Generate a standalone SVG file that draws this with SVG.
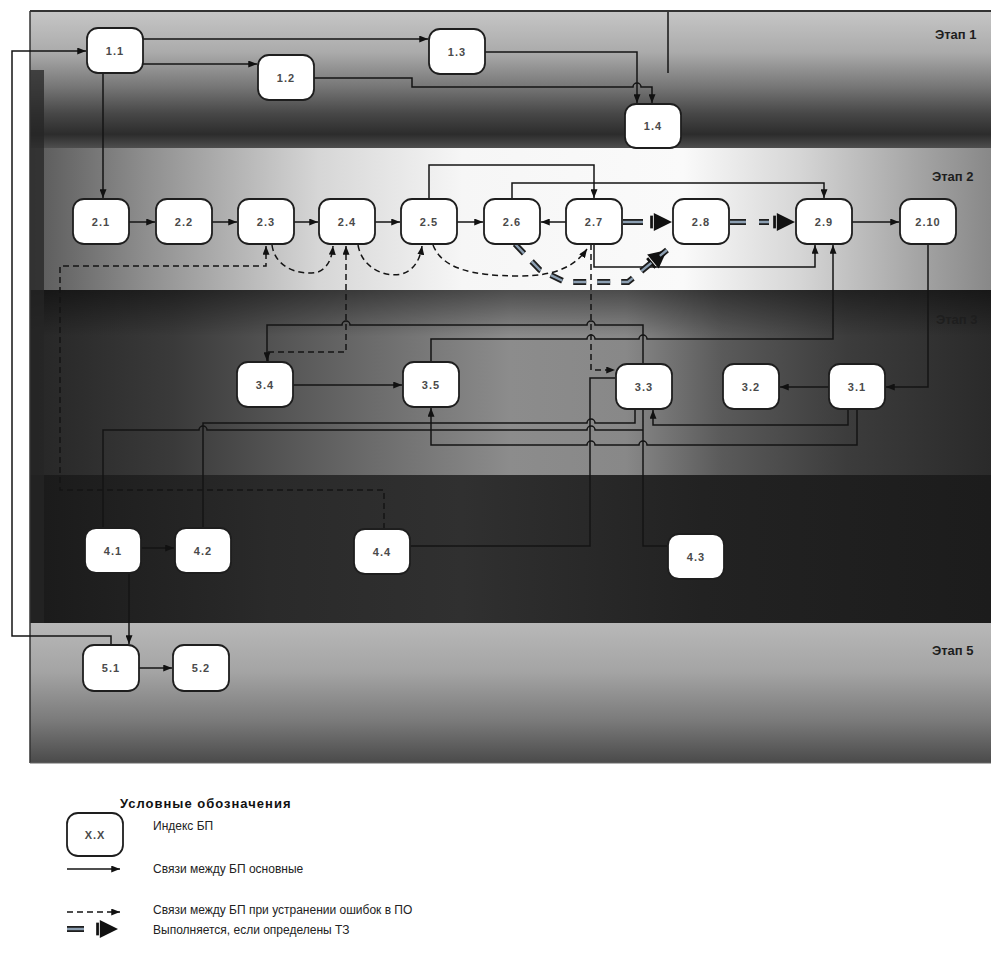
<svg xmlns="http://www.w3.org/2000/svg" width="991" height="959" viewBox="0 0 991 959">
<style>
.bg{stroke:none}
.node rect{fill:#ffffff;stroke:#1e1e1e;stroke-width:1.8}
.node text{font-family:"Liberation Sans",Arial,sans-serif;font-size:11px;font-weight:bold;fill:#4a4a4a;letter-spacing:1px;text-anchor:middle;dominant-baseline:central}
.c{fill:none;stroke:#141414;stroke-width:1.5}
.d{fill:none;stroke:#141414;stroke-width:1.5;stroke-dasharray:6 4}
.tzo{fill:none;stroke:#1e1e1e;stroke-width:6}
.tzi{fill:none;stroke:#8c9fb2;stroke-width:2.4}
.stage{font-family:"Liberation Sans",Arial,sans-serif;font-size:13px;font-weight:bold;fill:#1e1e1e}
.lt{font-family:"Liberation Sans",Arial,sans-serif;font-size:12px;fill:#222}
.ltitle{font-family:"Liberation Sans",Arial,sans-serif;font-size:13px;font-weight:bold;fill:#111;letter-spacing:1px}
</style>
<defs>
<marker id="ah" viewBox="0 0 10 8" refX="10" refY="4" markerWidth="9" markerHeight="7" markerUnits="userSpaceOnUse" orient="auto"><path d="M0,0 L10,4 L0,8 z" fill="#111"/></marker>
<marker id="tz" viewBox="0 0 24 22" refX="24" refY="11" markerWidth="22" markerHeight="20" markerUnits="userSpaceOnUse" orient="auto"><path d="M4,1 L24,11 L4,21 z" fill="#111"/><rect x="0" y="4" width="3" height="14" fill="#111"/></marker>
<linearGradient id="g1" x1="0" y1="0" x2="0" y2="1"><stop offset="0" stop-color="#c6c6c6"/><stop offset="0.3" stop-color="#ababab"/><stop offset="0.55" stop-color="#777"/><stop offset="0.75" stop-color="#474747"/><stop offset="0.9" stop-color="#2c2c2c"/><stop offset="1" stop-color="#4e4e4e"/></linearGradient>
<linearGradient id="g2" x1="0" y1="0" x2="1" y2="0"><stop offset="0" stop-color="#585858"/><stop offset="0.12" stop-color="#8e8e8e"/><stop offset="0.3" stop-color="#d6d6d6"/><stop offset="0.45" stop-color="#f6f6f6"/><stop offset="0.68" stop-color="#fafafa"/><stop offset="0.8" stop-color="#d6d6d6"/><stop offset="0.92" stop-color="#a6a6a6"/><stop offset="1" stop-color="#888"/></linearGradient>
<linearGradient id="g3" x1="0" y1="0" x2="1" y2="0"><stop offset="0" stop-color="#262626"/><stop offset="0.15" stop-color="#3a3a3a"/><stop offset="0.35" stop-color="#6a6a6a"/><stop offset="0.5" stop-color="#8c8c8c"/><stop offset="0.62" stop-color="#888"/><stop offset="0.72" stop-color="#5a5a5a"/><stop offset="0.85" stop-color="#3c3c3c"/><stop offset="1" stop-color="#2a2a2a"/></linearGradient>
<linearGradient id="g3v" x1="0" y1="0" x2="0" y2="1"><stop offset="0" stop-color="#000" stop-opacity="0.45"/><stop offset="0.25" stop-color="#000" stop-opacity="0"/><stop offset="1" stop-color="#000" stop-opacity="0"/></linearGradient>
<linearGradient id="g4" x1="0" y1="0" x2="1" y2="0"><stop offset="0" stop-color="#1a1a1a"/><stop offset="0.25" stop-color="#2a2a2a"/><stop offset="0.45" stop-color="#303030"/><stop offset="0.7" stop-color="#222"/><stop offset="1" stop-color="#1c1c1c"/></linearGradient>
<linearGradient id="g5" x1="0" y1="0" x2="0" y2="1"><stop offset="0" stop-color="#b8b8b8"/><stop offset="0.35" stop-color="#a4a4a4"/><stop offset="0.7" stop-color="#7a7a7a"/><stop offset="1" stop-color="#4a4a4a"/></linearGradient>
</defs>

<rect x="0" y="0" width="991" height="959" fill="#ffffff"/>

<g id="bands">
<rect class="bg" x="30" y="11" width="961" height="137" fill="url(#g1)"/>
<rect class="bg" x="30" y="148" width="961" height="142" fill="url(#g2)"/>
<rect class="bg" x="30" y="290" width="961" height="185" fill="url(#g3)"/>
<rect class="bg" x="30" y="290" width="961" height="185" fill="url(#g3v)"/>
<rect class="bg" x="30" y="475" width="961" height="148" fill="url(#g4)"/>
<rect class="bg" x="30" y="623" width="961" height="140" fill="url(#g5)"/>
<rect class="bg" x="30" y="70" width="14" height="553" fill="#262626" opacity="0.75"/>
<line x1="30" y1="11" x2="991" y2="11" stroke="#333" stroke-width="2"/>
<line x1="30" y1="11" x2="30" y2="763" stroke="#333" stroke-width="1.5"/>
<line x1="30" y1="763" x2="991" y2="763" stroke="#666" stroke-width="1"/>
<text class="stage" x="935" y="39">Этап 1</text>
<text class="stage" x="932" y="181">Этап 2</text>
<text class="stage" x="936" y="324">Этап 3</text>
<text class="stage" x="932" y="655">Этап 5</text>
</g>

<g id="connectors">
<path class="c" d="M111,645 V636 H12 V51 H86" marker-end="url(#ah)"/>
<path class="c" d="M143,39 H428" marker-end="url(#ah)"/>
<path class="c" d="M143,64 H257" marker-end="url(#ah)"/>
<path class="c" d="M314,78 H412 V87 H633 a4,4 0 0 1 8,0 H652 V103" marker-end="url(#ah)"/>
<path class="c" d="M485,52 H637 V103" marker-end="url(#ah)"/>
<path class="c" d="M668,12 V73"/>
<path class="c" d="M103,73 V198" marker-end="url(#ah)"/>
<path class="c" d="M129,222 H155" marker-end="url(#ah)"/>
<path class="c" d="M212,222 H237" marker-end="url(#ah)"/>
<path class="c" d="M294,222 H318" marker-end="url(#ah)"/>
<path class="c" d="M375,222 H400" marker-end="url(#ah)"/>
<path class="c" d="M457,222 H483" marker-end="url(#ah)"/>
<path class="c" d="M566,222 H541" marker-end="url(#ah)"/>
<path class="c" d="M429,199 V165 H594 V198" marker-end="url(#ah)"/>
<path class="c" d="M512,199 V183 H824 V198" marker-end="url(#ah)"/>
<path class="c" d="M852,222 H899" marker-end="url(#ah)"/>
<path class="c" d="M594,244 V267 H815 V245" marker-end="url(#ah)"/>
<path class="tzo" d="M623,222 H672" stroke-dasharray="20 60" marker-end="url(#tz)"/>
<path class="tzi" d="M623,222 H643"/>
<path class="tzo" d="M730,222 H795" stroke-dasharray="16 13 10 60" marker-end="url(#tz)"/>
<path class="tzi" d="M730,222 H795" stroke-dasharray="16 13 10 60"/>
<path class="tzo" d="M515,244 L540,270 L565,282 H628 L667,250" stroke-dasharray="13 11" marker-end="url(#tz)"/>
<path class="tzi" d="M515,244 L540,270 L565,282 H628 L667,250" stroke-dasharray="13 11"/>
<path class="d" d="M272,245 C275,268 300,276 318,272 C328,268 332,258 333,246" marker-end="url(#ah)"/>
<path class="d" d="M358,245 C362,268 385,278 402,274 C414,270 420,260 422,246" marker-end="url(#ah)"/>
<path class="d" d="M433,245 C442,268 470,276 520,276 C552,276 574,268 587,249" marker-end="url(#ah)"/>
<path class="d" d="M384,529 V490 H60 V266 H266 V246" marker-end="url(#ah)"/>
<path class="d" d="M268,362 V352 H346 V246" marker-end="url(#ah)"/>
<path class="d" d="M591,244 V370 H615" marker-end="url(#ah)"/>
<path class="c" d="M643,364 V325 H595 a4,4 0 0 0 -8,0 H350 a4,4 0 0 0 -8,0 H267 V361" marker-end="url(#ah)"/>
<path class="c" d="M293,385 H402" marker-end="url(#ah)"/>
<path class="c" d="M431,362 V339 H587 a4,4 0 0 1 8,0 H639 a4,4 0 0 1 8,0 H833 V245" marker-end="url(#ah)"/>
<path class="c" d="M829,387 H780" marker-end="url(#ah)"/>
<path class="c" d="M928,244 V387 H886" marker-end="url(#ah)"/>
<path class="c" d="M848,409 V425 H653 V410" marker-end="url(#ah)"/>
<path class="c" d="M857,409 V445 H647 a4,4 0 0 0 -8,0 H595 a4,4 0 0 0 -8,0 H431 V408" marker-end="url(#ah)"/>
<path class="c" d="M203,528 V423 H587 a4,4 0 0 1 8,0 H635 V409"/>
<path class="c" d="M103,528 V430 H199 a4,4 0 0 1 8,0 H587 a4,4 0 0 1 8,0 H643"/>
<path class="c" d="M643,409 V546 H667"/>
<path class="c" d="M615,378 H590 V546 H410"/>
<path class="c" d="M141,548 H174" marker-end="url(#ah)"/>
<path class="c" d="M129,573 V644" marker-end="url(#ah)"/>
<path class="c" d="M139,668 H172" marker-end="url(#ah)"/>
</g>

<g id="n1_1" class="node"><rect x="87" y="28" width="56" height="45" rx="11"/><text x="115" y="50.5">1.1</text></g>
<g id="n1_2" class="node"><rect x="258" y="55" width="56" height="45" rx="11"/><text x="286" y="77.5">1.2</text></g>
<g id="n1_3" class="node"><rect x="429" y="29" width="56" height="45" rx="11"/><text x="457" y="51.5">1.3</text></g>
<g id="n1_4" class="node"><rect x="625" y="104" width="56" height="44" rx="11"/><text x="653" y="126">1.4</text></g>

<g id="n2_1" class="node"><rect x="73" y="199" width="56" height="45" rx="11"/><text x="101" y="221.5">2.1</text></g>
<g id="n2_2" class="node"><rect x="156" y="199" width="56" height="45" rx="11"/><text x="184" y="221.5">2.2</text></g>
<g id="n2_3" class="node"><rect x="238" y="199" width="56" height="45" rx="11"/><text x="266" y="221.5">2.3</text></g>
<g id="n2_4" class="node"><rect x="319" y="199" width="56" height="45" rx="11"/><text x="347" y="221.5">2.4</text></g>
<g id="n2_5" class="node"><rect x="401" y="199" width="56" height="45" rx="11"/><text x="429" y="221.5">2.5</text></g>
<g id="n2_6" class="node"><rect x="484" y="199" width="56" height="45" rx="11"/><text x="512" y="221.5">2.6</text></g>
<g id="n2_7" class="node"><rect x="566" y="199" width="56" height="45" rx="11"/><text x="594" y="221.5">2.7</text></g>
<g id="n2_8" class="node"><rect x="673" y="199" width="56" height="45" rx="11"/><text x="701" y="221.5">2.8</text></g>
<g id="n2_9" class="node"><rect x="796" y="199" width="56" height="45" rx="11"/><text x="824" y="221.5">2.9</text></g>
<g id="n2_10" class="node"><rect x="900" y="199" width="56" height="45" rx="11"/><text x="928" y="221.5">2.10</text></g>

<g id="n3_4" class="node"><rect x="237" y="362" width="56" height="45" rx="11"/><text x="265" y="384.5">3.4</text></g>
<g id="n3_5" class="node"><rect x="403" y="362" width="56" height="45" rx="11"/><text x="431" y="384.5">3.5</text></g>
<g id="n3_3" class="node"><rect x="616" y="364" width="56" height="45" rx="11"/><text x="644" y="386.5">3.3</text></g>
<g id="n3_2" class="node"><rect x="723" y="364" width="56" height="45" rx="11"/><text x="751" y="386.5">3.2</text></g>
<g id="n3_1" class="node"><rect x="829" y="364" width="56" height="45" rx="11"/><text x="857" y="386.5">3.1</text></g>

<g id="n4_1" class="node"><rect x="85" y="528" width="56" height="45" rx="11"/><text x="113" y="550.5">4.1</text></g>
<g id="n4_2" class="node"><rect x="175" y="528" width="56" height="45" rx="11"/><text x="203" y="550.5">4.2</text></g>
<g id="n4_4" class="node"><rect x="354" y="529" width="56" height="45" rx="11"/><text x="382" y="551.5">4.4</text></g>
<g id="n4_3" class="node"><rect x="668" y="534" width="56" height="45" rx="11"/><text x="696" y="556.5">4.3</text></g>

<g id="n5_1" class="node"><rect x="83" y="645" width="56" height="46" rx="11"/><text x="111" y="668">5.1</text></g>
<g id="n5_2" class="node"><rect x="173" y="645" width="56" height="46" rx="11"/><text x="201" y="668">5.2</text></g>

<g id="legend">
<text class="ltitle" x="120" y="808">Условные обозначения</text>
<g id="legend_node" class="node"><rect x="67" y="813" width="56" height="43" rx="11"/><text x="95" y="834.5">X.X</text></g>
<text class="lt" x="153" y="830">Индекс БП</text>
<path class="c" d="M67,869 H120" marker-end="url(#ah)"/>
<text class="lt" x="153" y="873">Связи между БП основные</text>
<path class="d" d="M67,912 H120" marker-end="url(#ah)"/>
<text class="lt" x="153" y="914">Связи между БП при устранении ошибок в ПО</text>
<path class="tzo" d="M67,929 H118" stroke-dasharray="17 60" marker-end="url(#tz)"/>
<path class="tzi" d="M67,929 H84"/>
<text class="lt" x="153" y="934">Выполняется, если определены ТЗ</text>
</g>
</svg>
